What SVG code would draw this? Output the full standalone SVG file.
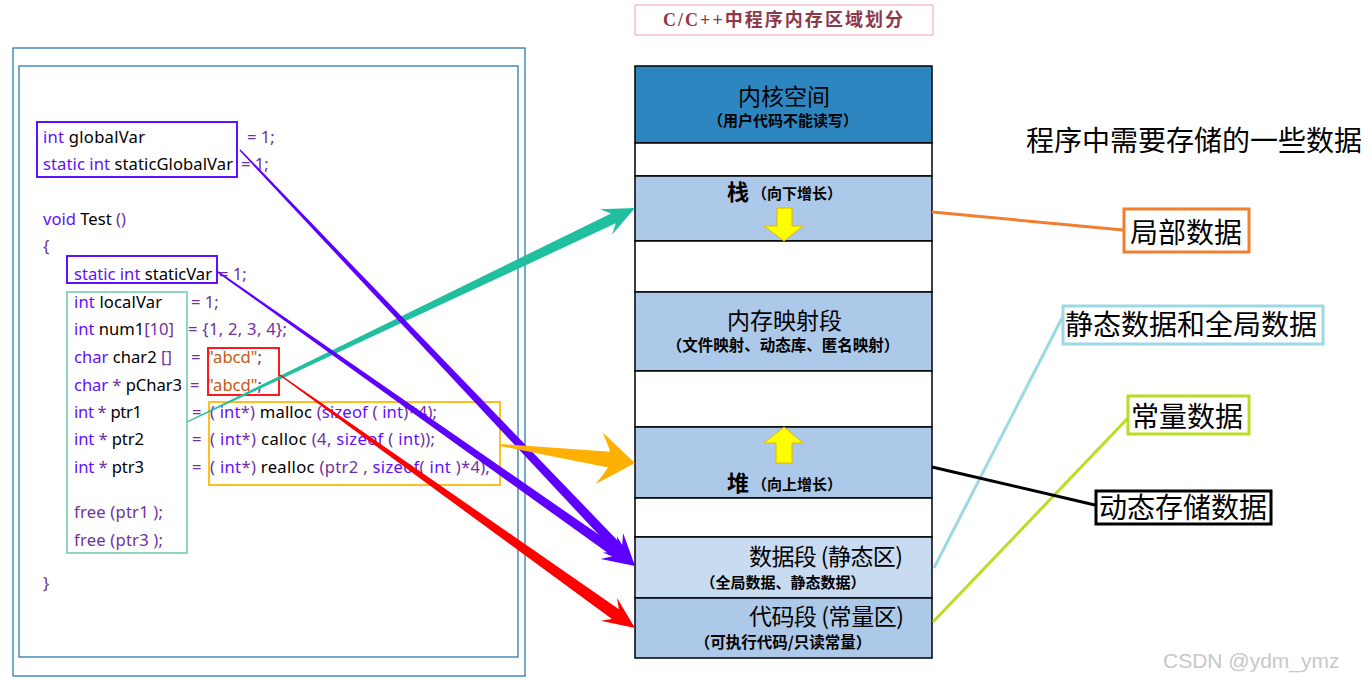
<svg xmlns="http://www.w3.org/2000/svg" width="1372" height="684" viewBox="0 0 1372 684">
<style>
.c{font-family:"Noto Sans","Open Sans",sans-serif;font-size:16.6px;fill:#000}
.k{fill:#5e10ff}
.p{fill:#7030a0}
.s{fill:#c55a11}
.frame{fill:none;stroke:#1f6fa5;stroke-width:1.2}
.blk{stroke:#000;stroke-width:1.5}
.dk{fill:#2e86c1}
.lt{fill:#adc9e9}
.vl{fill:#c9dbf0}
.wh{fill:#fff}
.t1{font-family:"Noto Sans CJK SC",sans-serif;fill:#000}
.sub{font-weight:bold}
.lab{font-family:"Noto Sans CJK SC",sans-serif;font-size:28px;fill:#000}
.ya{fill:#ffff00;stroke:#e8b400;stroke-width:1}
</style>
<rect width="1372" height="684" fill="#fff"/>

<g id="code">
<rect class="frame" x="13" y="48" width="512" height="628"/>
<rect class="frame" x="19" y="66" width="499" height="591"/>
<text class="c" x="43" y="143" textLength="102"><tspan class="k">int</tspan> globalVar</text>
<text class="c p" x="247" y="143">= 1;</text>
<text class="c" x="43" y="170" textLength="190"><tspan class="k">static int</tspan> staticGlobalVar</text>
<text class="c p" x="241" y="170">= 1;</text>
<text class="c" x="43" y="225"><tspan class="k">void</tspan> Test <tspan class="p">()</tspan></text>
<text class="c p" x="43" y="252">{</text>
<text class="c" x="74" y="280" textLength="138"><tspan class="k">static int</tspan> staticVar</text>
<text class="c p" x="219" y="280">= 1;</text>
<text class="c" x="74" y="308" textLength="88"><tspan class="k">int</tspan> localVar</text>
<text class="c p" x="191" y="308">= 1;</text>
<text class="c" x="74" y="335" textLength="100"><tspan class="k">int</tspan> num1<tspan class="p">[10]</tspan></text>
<text class="c p" x="188" y="335" textLength="99">= {1, 2, 3, 4};</text>
<text class="c" x="74" y="363" textLength="98"><tspan class="k">char</tspan> char2 <tspan class="p">[]</tspan></text>
<text class="c p" x="191" y="363">=</text>
<text class="c" x="207" y="363"><tspan class="s">"abcd"</tspan><tspan class="p">;</tspan></text>
<text class="c" x="74" y="391" textLength="108"><tspan class="k">char</tspan> <tspan class="p">*</tspan> pChar3</text>
<text class="c p" x="190" y="391">=</text>
<text class="c" x="207" y="391"><tspan class="s">"abcd"</tspan><tspan class="p">;</tspan></text>
<text class="c" x="74" y="418" textLength="68"><tspan class="k">int</tspan> <tspan class="p">*</tspan> ptr1</text>
<text class="c p" x="192" y="418">=</text>
<text class="c" x="210" y="418" textLength="227"><tspan class="p">( </tspan><tspan class="k">int</tspan><tspan class="p">*)</tspan> malloc <tspan class="p">(</tspan><tspan class="k">sizeof</tspan><tspan class="p"> ( </tspan><tspan class="k">int</tspan><tspan class="p">)*4);</tspan></text>
<text class="c" x="74" y="445" textLength="70"><tspan class="k">int</tspan> <tspan class="p">*</tspan> ptr2</text>
<text class="c p" x="192" y="445">=</text>
<text class="c" x="210" y="445" textLength="225"><tspan class="p">( </tspan><tspan class="k">int</tspan><tspan class="p">*)</tspan> calloc <tspan class="p">(4, </tspan><tspan class="k">sizeof</tspan><tspan class="p"> ( </tspan><tspan class="k">int</tspan><tspan class="p">));</tspan></text>
<text class="c" x="74" y="473" textLength="70"><tspan class="k">int</tspan> <tspan class="p">*</tspan> ptr3</text>
<text class="c p" x="192" y="473">=</text>
<text class="c" x="210" y="473" textLength="280"><tspan class="p">( </tspan><tspan class="k">int</tspan><tspan class="p">*)</tspan> realloc <tspan class="p">(ptr2 , </tspan><tspan class="k">sizeof</tspan><tspan class="p">( </tspan><tspan class="k">int</tspan><tspan class="p"> )*4);</tspan></text>
<text class="c p" x="74" y="518" textLength="89">free (ptr1 );</text>
<text class="c p" x="74" y="546" textLength="89">free (ptr3 );</text>
<text class="c p" x="43" y="589">}</text>
</g>

<g id="code-boxes" fill="none">
<rect x="37" y="122" width="200" height="55" stroke="#5e10ff" stroke-width="2"/>
<rect x="67" y="256" width="150" height="27" stroke="#5e10ff" stroke-width="2"/>
<rect x="67" y="292" width="120" height="261" stroke="#8fd6c0" stroke-width="2"/>
<rect x="208" y="348" width="71" height="47" stroke="#ff1a1a" stroke-width="2"/>
<rect x="209" y="402" width="291" height="83" stroke="#ffbf1f" stroke-width="2"/>
</g>

<g id="title">
<rect x="635" y="5" width="298" height="30" fill="#fff" stroke="#e6a0b4" stroke-width="1"/>
<text x="663" y="26" textLength="240" font-family="Liberation Serif,'Noto Sans CJK SC',serif" font-size="18" font-weight="bold" fill="#8b3a4a">C/C++中程序内存区域划分</text>
</g>

<g id="memory">
<rect class="dk blk" x="635" y="66" width="297" height="77"/>
<rect class="wh blk" x="635" y="143" width="297" height="33"/>
<rect class="lt blk" x="635" y="176" width="297" height="65"/>
<rect class="wh blk" x="635" y="241" width="297" height="51"/>
<rect class="lt blk" x="635" y="292" width="297" height="79"/>
<rect class="wh blk" x="635" y="371" width="297" height="56"/>
<rect class="lt blk" x="635" y="427" width="297" height="71"/>
<rect class="wh blk" x="635" y="498" width="297" height="39"/>
<rect class="vl blk" x="635" y="537" width="297" height="61"/>
<rect class="lt blk" x="635" y="598" width="297" height="60"/>
</g>

<g id="kernel">
<text class="t1" x="738" y="105" font-size="23" textLength="92">内核空间</text>
<text class="t1 sub" x="783" y="126" font-size="15" text-anchor="middle">（用户代码不能读写）</text>
</g>
<g id="stack">
<text class="t1" x="727" y="200" font-size="22" font-weight="bold">栈</text>
<text class="t1 sub" x="752" y="199" font-size="15">（向下增长）</text>
<polygon class="ya" points="777,208 792,208 792,226 803,226 784,241 764,226 777,226"/>
</g>
<g id="mmap">
<text class="t1" x="727" y="329" font-size="23" textLength="115">内存映射段</text>
<text class="t1 sub" x="783" y="351" font-size="15.5" text-anchor="middle">（文件映射、动态库、匿名映射）</text>
</g>
<g id="heap">
<polygon class="ya" points="784,427 803,443 792,443 792,463 776,463 776,443 764,443"/>
<text class="t1" x="727" y="491" font-size="22" font-weight="bold">堆</text>
<text class="t1 sub" x="752" y="490" font-size="15">（向上增长）</text>
</g>
<g id="data">
<text class="t1" x="749" y="565" font-size="23" textLength="154">数据段 (静态区)</text>
<text class="t1 sub" x="783" y="588" font-size="15" text-anchor="middle">（全局数据、静态数据）</text>
</g>
<g id="text-seg">
<text class="t1" x="749" y="625" font-size="23" textLength="155">代码段 (常量区)</text>
<text class="t1 sub" x="783" y="648" font-size="15.5" text-anchor="middle">（可执行代码/只读常量）</text>
</g>

<g id="connectors">
<line x1="932" y1="212" x2="1123" y2="230" stroke="#f07f2f" stroke-width="3"/>
<line x1="934" y1="568" x2="1062" y2="318" stroke="#9dd8e6" stroke-width="3"/>
<line x1="933" y1="622" x2="1128" y2="418" stroke="#b6df22" stroke-width="3"/>
<line x1="932" y1="467" x2="1095" y2="505" stroke="#000" stroke-width="3"/>
<polygon fill="#1fbf9f" transform="translate(187 422) rotate(-25.53)" points="0,-0.5 472.5,-5.5 464.5,-14 496.5,0 464.5,14 472.5,5.5 0,0.5"/>
<polygon fill="#5e00ff" transform="translate(240 150) rotate(46.48)" points="0,-0.8 549.7,-5 541.7,-14 573.7,0 541.7,14 549.7,5 0,0.8"/>
<polygon fill="#5e00ff" transform="translate(218 272) rotate(35.19)" points="0,-0.8 486.2,-5 478.2,-14 510.2,0 478.2,14 486.2,5 0,0.8"/>
<polygon fill="#ffb000" transform="translate(500 445) rotate(7.6)" points="0,-1 110.2,-8 100.2,-26 136.2,0 100.2,26 110.2,8 0,1"/>
<polygon fill="#ff0000" transform="translate(280 375) rotate(35.48)" points="0,-0.6 411.9,-6 403.9,-14 435.9,0 403.9,14 411.9,6 0,0.6"/>
</g>

<g id="right-labels">
<text class="lab" x="1026" y="151">程序中需要存储的一些数据</text>
<g id="local"><rect x="1124" y="209" width="125" height="43" fill="#fff" stroke="#f07f2f" stroke-width="3"/><text class="lab" x="1130" y="243">局部数据</text></g>
<g id="static"><rect x="1063" y="306" width="260" height="38" fill="#fff" stroke="#9dd8e6" stroke-width="3"/><text class="lab" x="1065" y="335">静态数据和全局数据</text></g>
<g id="const"><rect x="1128" y="396" width="121" height="38" fill="#fff" stroke="#b6df22" stroke-width="3"/><text class="lab" x="1131" y="427">常量数据</text></g>
<g id="dynamic"><rect x="1096" y="491" width="175" height="33" fill="#fff" stroke="#000" stroke-width="3"/><text class="lab" x="1099" y="518">动态存储数据</text></g>
</g>
<text x="1163" y="668" font-family="Liberation Sans,sans-serif" font-size="21" fill="#c8c8c8">CSDN @ydm_ymz</text>
</svg>
